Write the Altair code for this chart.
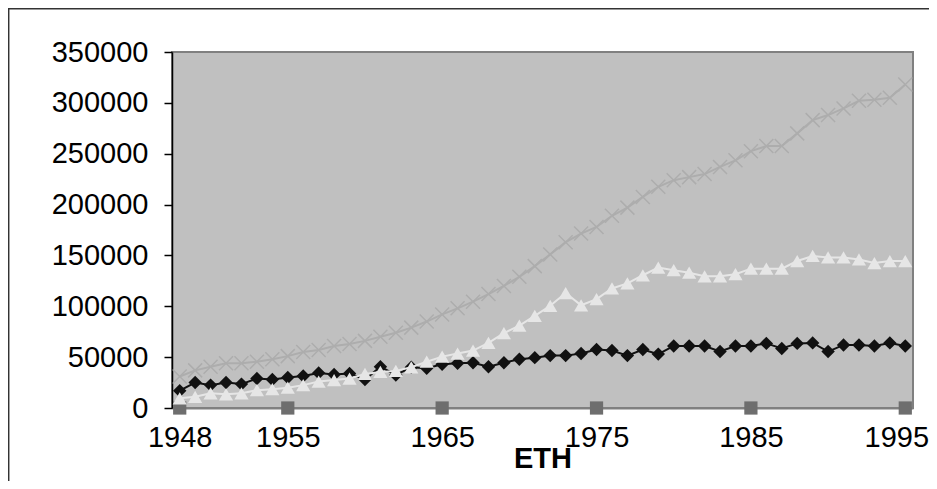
import altair as alt
import pandas as pd

years = [1948, 1949, 1950, 1951, 1952, 1953, 1954, 1955, 1956, 1957, 1958, 1959,
         1960, 1961, 1962, 1963, 1964, 1965, 1966, 1967, 1968, 1969, 1970, 1971,
         1972, 1973, 1974, 1975, 1976, 1977, 1978, 1979, 1980, 1981, 1982, 1983,
         1984, 1985, 1986, 1987, 1988, 1989, 1990, 1991, 1992, 1993, 1994, 1995]

series_diamond = [17000, 25000, 22500, 25000, 23500, 29000, 28000, 30000, 31500, 34500, 33000, 34000,
                  28000, 40500, 32500, 40000, 39000, 43000, 44000, 44500, 40500, 44500, 48000, 49500,
                  51500, 51500, 53500, 57500, 56500, 51500, 57500, 53000, 61000, 61000, 61000, 55500,
                  61000, 61000, 63500, 58500, 63500, 64000, 55500, 62000, 62000, 61000, 64000, 61000]

series_triangle = [9500, 11000, 14500, 13500, 14500, 17500, 18500, 20000, 22500, 26000, 27500, 29000,
                   33500, 35500, 36500, 40000, 45500, 50500, 53500, 56500, 64000, 73500, 81000, 90500,
                   100500, 113000, 101000, 107000, 117500, 122500, 130500, 138000, 135500, 133000, 129500, 129500,
                   131500, 137000, 137000, 137000, 144500, 149500, 148000, 148000, 146000, 142500, 144500, 144500]

series_cross = [31000, 37000, 40500, 44000, 44000, 45500, 48000, 51000, 55000, 57000, 61000, 63000,
                66000, 70000, 74000, 79000, 85000, 92000, 98000, 104500, 112000, 120000, 129000, 139500,
                151000, 163000, 171500, 178000, 189000, 197000, 207500, 217500, 224000, 227000, 230000, 237000,
                243500, 252500, 257500, 257500, 270000, 283000, 288000, 294500, 302000, 303000, 305000, 318000]

square_years = [1948, 1955, 1965, 1975, 1985, 1995]
square_values = [0, 0, 0, 0, 0, 0]

tick_years = [1948, 1955, 1965, 1975, 1985, 1995]
y_ticks = [0, 50000, 100000, 150000, 200000, 250000, 300000, 350000]

FONT = "Liberation Sans"

x_enc = alt.X("year:Q",
              scale=alt.Scale(domain=[1947.5, 1995.5], nice=False, zero=False),
              axis=alt.Axis(values=tick_years, format="d", title="ETH",
                            ticks=False, tickSize=0, labelPadding=15,
                            labelOffset={"condition": {"test": "datum.value == 1995", "value": -9},
                                         "value": 0},
                            labelFont=FONT, labelFontSize=29, labelColor="#000000",
                            titleFont=FONT, titleFontSize=29, titleFontWeight="bold",
                            titleColor="#000000", titleY=36, titleBaseline="top",
                            domainColor="#808080", domainWidth=2, grid=False,
                            labelFlush=False, labelOverlap=False))
y_enc = alt.Y("value:Q",
              scale=alt.Scale(domain=[0, 350000], nice=False),
              axis=alt.Axis(values=y_ticks, format="d", title=None,
                            tickSize=8, tickColor="#000000", tickWidth=1.5,
                            labelPadding=16, labelFont=FONT, labelFontSize=29,
                            labelColor="#000000", domainColor="#000000",
                            domainWidth=1.5, grid=False, labelFlush=False,
                            labelOverlap=False))


def frame(ys, vals):
    return pd.DataFrame({"year": ys, "value": vals})


df_d = frame(years, series_diamond)
df_t = frame(years, series_triangle)
df_c = frame(years, series_cross)
df_s = frame(square_years, square_values)

line_d = alt.Chart(df_d).mark_line(color="#111111", strokeWidth=2).encode(x=x_enc, y=y_enc)
pts_d = alt.Chart(df_d).mark_point(shape="diamond", filled=True, color="#111111",
                                   size=180, opacity=1).encode(x=x_enc, y=y_enc)

pts_s = alt.Chart(df_s).mark_point(shape="square", filled=True, color="#6e6e6e",
                                   size=175, opacity=1).encode(x=x_enc, y=y_enc)

line_t = alt.Chart(df_t).mark_line(color="#e6e6e6", strokeWidth=2).encode(x=x_enc, y=y_enc)
pts_t = alt.Chart(df_t).mark_point(shape="triangle-up", filled=True, color="#e6e6e6",
                                   size=200, opacity=1).encode(x=x_enc, y=y_enc)

line_c = alt.Chart(df_c).mark_line(color="#adadad", strokeWidth=2).encode(x=x_enc, y=y_enc)
pts_c = alt.Chart(df_c).mark_point(shape="M-1,-1L1,1M-1,1L1,-1", filled=False,
                                   color="#adadad", strokeWidth=1.5, size=196,
                                   opacity=1).encode(x=x_enc, y=y_enc)

# decorative outer frame of the chart (only its top and left edges fall inside the picture)
outer_frame = alt.Chart(pd.DataFrame({"k": [0]})).mark_rect(
    fill="transparent", stroke="#333333", strokeWidth=1.5
).encode(x=alt.value(-163.3), x2=alt.value(820), y=alt.value(-43.3), y2=alt.value(520))

chart = alt.layer(
    line_d, pts_d, pts_s, line_t, pts_t, line_c, pts_c, outer_frame
).properties(
    width=741, height=356,
    autosize=alt.AutoSizeParams(type="none"),
    padding={"left": 164, "top": 44, "right": 16, "bottom": 73},
    background="#ffffff",
).configure_view(
    fill="#c0c0c0", stroke="#808080", strokeWidth=2
)

chart.save("out.html", embed_options={"renderer": "svg", "actions": False})
